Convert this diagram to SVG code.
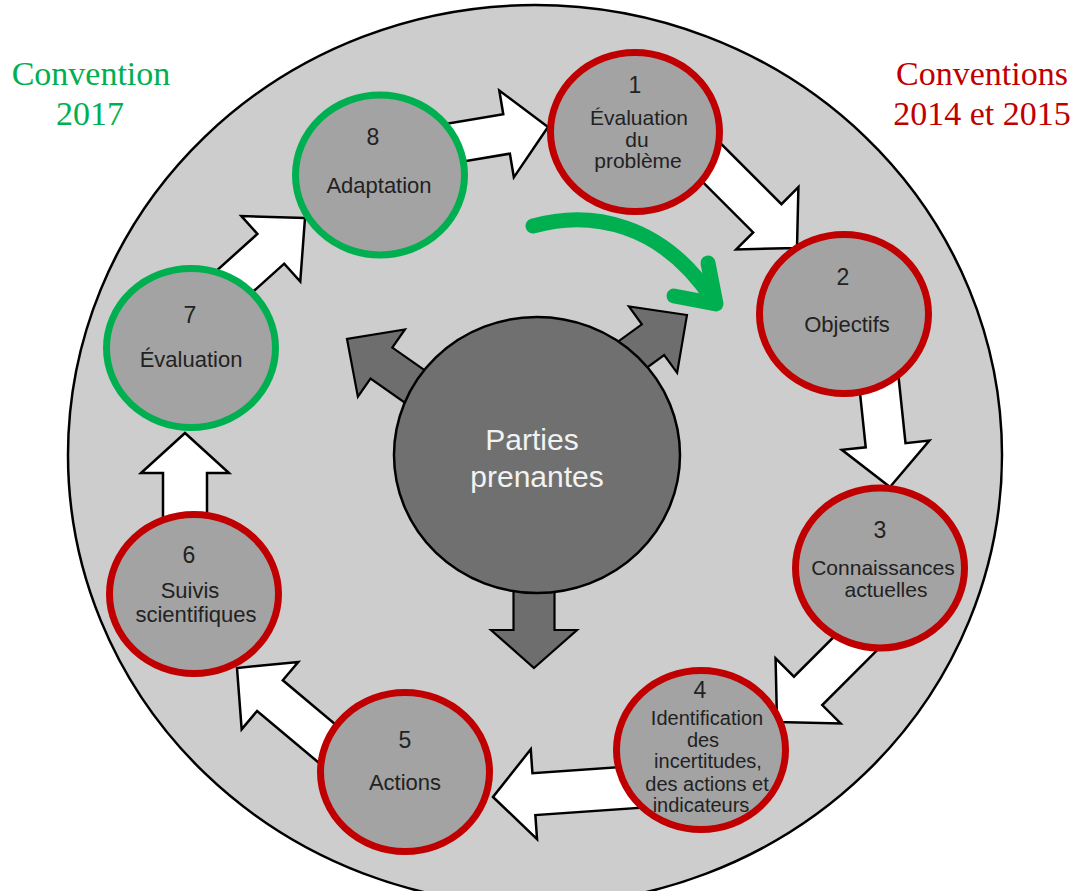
<svg xmlns="http://www.w3.org/2000/svg" width="1075" height="891" viewBox="0 0 1075 891">
<style>
.bg{fill:#cdcdcd;stroke:#000;stroke-width:2.5}
.wa{fill:#fff;stroke:#000;stroke-width:2.5;stroke-linejoin:miter}
.ga{fill:#6e6e6e;stroke:#000;stroke-width:2.2;stroke-linejoin:miter}
.nr{fill:#a3a3a3;stroke:#c00000;stroke-width:7}
.ng{fill:#a3a3a3;stroke:#00b050;stroke-width:7}
.t{font-family:"Liberation Sans",Arial,sans-serif;font-size:22px;fill:#222;text-anchor:middle}
.num{font-size:23px}
.m{font-size:21px}
.small{font-size:20px}
.ct{font-family:"Liberation Sans",Arial,sans-serif;font-size:30px;fill:#f2f2f2;text-anchor:middle}
.lab{font-family:"Liberation Serif","Times New Roman",serif;font-size:34px;text-anchor:middle}
</style>
<rect width="1075" height="891" fill="#fff"/>
<ellipse class="bg" cx="535" cy="455" rx="467" ry="450"/>

<g id="connectors">
<path class="wa" transform="translate(548,127) rotate(-9.5)" d="M0,0 L-42,-44 L-42,-20 L-110,-20 L-110,20 L-42,20 L-42,44 Z"/>
<path class="wa" transform="translate(797,248) rotate(45)" d="M0,0 L-42,-44 L-42,-20 L-150,-20 L-150,20 L-42,20 L-42,44 Z"/>
<path class="wa" transform="translate(890,487) rotate(84)" d="M0,0 L-42,-44 L-42,-20 L-130,-20 L-130,20 L-42,20 L-42,44 Z"/>
<path class="wa" transform="translate(777,722) rotate(135)" d="M0,0 L-44,-46 L-44,-20 L-150,-20 L-150,20 L-44,20 L-44,46 Z"/>
<path class="wa" transform="translate(493,797) rotate(176)" d="M0,0 L-41,-45 L-41,-21 L-180,-21 L-180,21 L-41,21 L-41,45 Z"/>
<path class="wa" transform="translate(237,668) rotate(220)" d="M0,0 L-43,-44 L-43,-20 L-150,-20 L-150,20 L-43,20 L-43,44 Z"/>
<path class="wa" transform="translate(185,433) rotate(-90)" d="M0,0 L-40,-44 L-40,-22 L-120,-22 L-120,22 L-40,22 L-40,44 Z"/>
<path class="wa" transform="translate(305,218) rotate(-42)" d="M0,0 L-46,-44 L-46,-20 L-140,-20 L-140,20 L-46,20 L-46,44 Z"/>
</g>

<g id="parties-prenantes">
<path class="ga" transform="translate(534,668) rotate(90)" d="M0,0 L-38,-43 L-38,-20.5 L-110,-20.5 L-110,20.5 L-38,20.5 L-38,43 Z"/>
<path class="ga" transform="translate(687,315) rotate(-36)" d="M0,0 L-42,-41 L-42,-19 L-120,-19 L-120,19 L-42,19 L-42,41 Z"/>
<path class="ga" transform="translate(347,339) rotate(-145)" d="M0,0 L-42,-41 L-42,-19 L-120,-19 L-120,19 L-42,19 L-42,41 Z"/>
<ellipse cx="537" cy="455" rx="143" ry="138" fill="#707070" stroke="#000" stroke-width="2.5"/>
<text class="ct" x="532" y="450">Parties</text>
<text class="ct" x="537" y="487">prenantes</text>
</g>

<g id="node1">
<ellipse class="nr" cx="635" cy="132" rx="84.5" ry="79.5"/>
<text class="t num" x="635" y="93">1</text>
<text class="t m" x="639" y="125">Évaluation</text>
<text class="t m" x="637" y="147">du</text>
<text class="t m" x="638" y="168">problème</text>
</g>
<g id="node2">
<ellipse class="nr" cx="844" cy="314" rx="84.5" ry="79.5"/>
<text class="t num" x="843" y="285">2</text>
<text class="t" x="847" y="332">Objectifs</text>
</g>
<g id="node3">
<ellipse class="nr" cx="880" cy="568" rx="84.5" ry="80"/>
<text class="t num" x="880" y="538">3</text>
<text class="t m" x="883" y="575">Connaissances</text>
<text class="t m" x="886" y="597">actuelles</text>
</g>
<g id="node4">
<ellipse class="nr" cx="701" cy="750" rx="84.5" ry="79.5"/>
<text class="t num" x="700" y="698">4</text>
<text class="t small" x="707" y="725">Identification</text>
<text class="t small" x="703" y="747">des</text>
<text class="t small" x="708" y="768">incertitudes,</text>
<text class="t small" x="707" y="791">des actions et</text>
<text class="t small" x="701" y="812">indicateurs</text>
</g>
<g id="node5">
<ellipse class="nr" cx="405" cy="772" rx="84.5" ry="79.5"/>
<text class="t num" x="405" y="748">5</text>
<text class="t" x="405" y="790">Actions</text>
</g>
<g id="node6">
<ellipse class="nr" cx="194" cy="594" rx="84.5" ry="79.5"/>
<text class="t num" x="189" y="563">6</text>
<text class="t" x="190" y="598">Suivis</text>
<text class="t" x="196" y="622">scientifiques</text>
</g>
<g id="node7">
<ellipse class="ng" cx="191" cy="348" rx="84.5" ry="79.5"/>
<text class="t num" x="190" y="323">7</text>
<text class="t" x="191" y="367">Évaluation</text>
</g>
<g id="node8">
<ellipse class="ng" cx="380" cy="175" rx="84.5" ry="80"/>
<text class="t num" x="373" y="145">8</text>
<text class="t" x="379" y="193">Adaptation</text>
</g>

<g id="green-arrow" fill="none" stroke="#00b050" stroke-width="15" stroke-linecap="round" stroke-linejoin="round">
<path d="M533,226 C590,210 662,222 713,300"/>
<path d="M708,263 L716,304 L674,296"/>
</g>

<g id="labels">
<text class="lab" x="91" y="85" fill="#00b050">Convention</text>
<text class="lab" x="90" y="125" fill="#00b050">2017</text>
<text class="lab" x="982" y="85" fill="#c00000">Conventions</text>
<text class="lab" x="982" y="125" fill="#c00000">2014 et 2015</text>
</g>
</svg>
